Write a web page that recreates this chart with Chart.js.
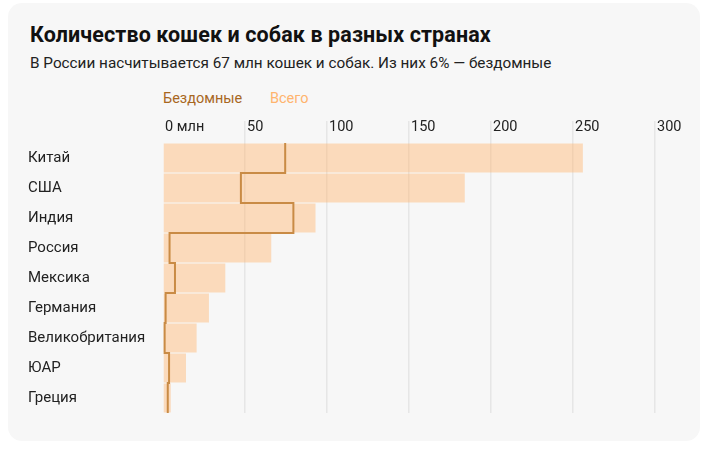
<!DOCTYPE html>
<html><head><meta charset="utf-8">
<script src="https://cdn.jsdelivr.net/npm/chart.js@4/dist/chart.umd.min.js"></script>
<style>
html,body{margin:0;padding:0;background:#fff;width:706px;height:456px;overflow:hidden;font-family:Roboto,"Noto Sans",sans-serif;}
#card{position:absolute;left:8px;top:3px;width:692px;height:438px;background:#f7f7f7;border-radius:14px;}
#title{position:absolute;left:30px;top:22px;font-size:21.5px;font-weight:700;color:#111;white-space:nowrap;letter-spacing:0.1px;}
#sub{position:absolute;left:30px;top:54px;font-size:15.3px;color:#222;white-space:nowrap;}
.leg{position:absolute;top:90px;font-size:14.5px;white-space:nowrap;}
#cv{position:absolute;left:0;top:0;}
</style></head>
<body>
<div id="card"></div>
<div id="title">Количество кошек и собак в разных странах</div>
<div id="sub">В России насчитывается 67 млн кошек и собак. Из них 6% — бездомные</div>
<div class="leg" style="left:163px;color:#a8671f;">Бездомные</div>
<div class="leg" style="left:270px;color:#ffb46e;">Всего</div>
<canvas id="cv" width="706" height="456"></canvas>
<script>
const countries = ["Китай","США","Индия","Россия","Мексика","Германия","Великобритания","ЮАР","Греция"];
const totalValues = [256, 184, 93, 66, 38, 28, 20.5, 14, 4.7];
const homelessValues = [74.5, 47.5, 79.5, 4, 7.3, 1.6, 1, 3.7, 2.9];
const tickLabels = {0:"0 млн",50:"50",100:"100",150:"150",200:"200",250:"250",300:"300"};

// stepped outline built from homeless values: each country spans its full band
const homelessStep = [];
homelessValues.forEach((v,i)=>{ homelessStep.push({x:v,y:i-0.5}); homelessStep.push({x:v,y:i+0.5}); });

new Chart(document.getElementById('cv'), {
  type:'bar',
  data:{
    labels:countries,
    datasets:[
      {type:'line', label:'Бездомные', data:homelessStep, xAxisID:'x', yAxisID:'y2',
       borderColor:'#c98b45', borderWidth:2, pointRadius:0, fill:false, tension:0, order:0},
      {label:'Всего', data:totalValues, xAxisID:'x', yAxisID:'y', grouped:false,
       backgroundColor:'rgba(255,182,112,0.45)', borderWidth:0,
       categoryPercentage:1, barPercentage:0.965, order:1}
    ]
  },
  options:{
    indexAxis:'y',
    responsive:false, animation:false,
    layout:{padding:{left:28, right:51, top:118, bottom:43}},
    plugins:{legend:{display:false}, tooltip:{enabled:false}},
    scales:{
      x:{type:'linear', position:'top', min:0, max:300, offset:false,
         border:{display:false},
         grid:{color:(c)=> c.tick && c.tick.value===0 ? 'rgba(0,0,0,0)' : '#e6e6e6', lineWidth:1.5, tickLength:22, drawTicks:true},
         afterBuildTicks:(s)=>{ s.ticks = Object.keys(tickLabels).map(v=>({value:+v})); },
         afterFit:(s)=>{ s.height = 25; },
         ticks:{align:'start', padding:-15, labelOffset:2, color:'#222',
                font:{family:'Roboto', size:14.5},
                callback:(v)=> tickLabels[v] !== undefined ? tickLabels[v] : ''}
      },
      y:{type:'category', position:'left', offset:true,
         border:{display:false}, grid:{display:false},
         afterFit:(s)=>{ s.width = 135; },
         ticks:{crossAlign:'far', color:'#222', padding:0, font:{family:'Roboto', size:15}}
      },
      y2:{type:'linear', display:false, offset:false, grid:{offset:false}, bounds:'data', min:-0.5, max:8.5, reverse:true}
    }
  }
});
</script>
</body></html>
